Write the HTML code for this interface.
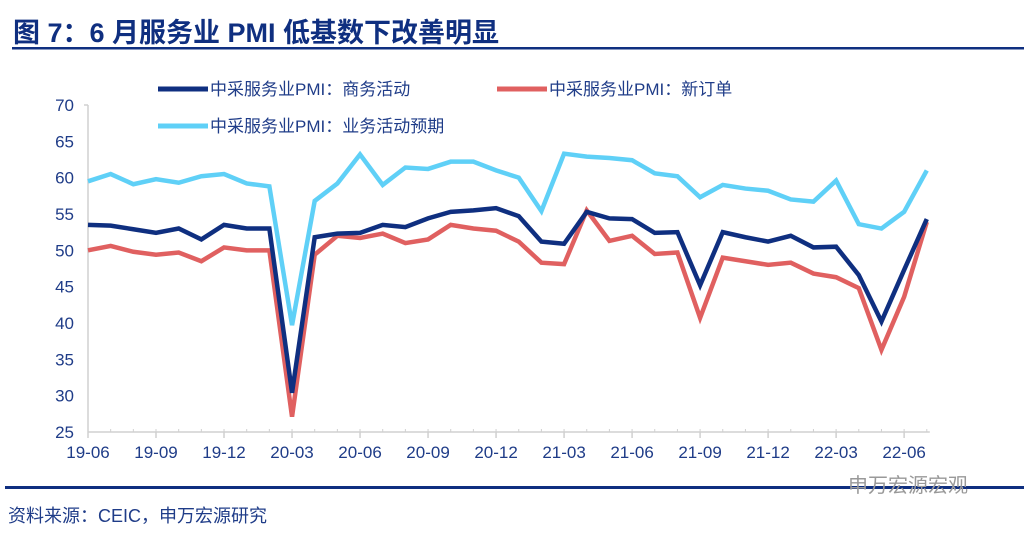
<!DOCTYPE html>
<html><head><meta charset="utf-8">
<style>
body{margin:0;background:#fff;width:1024px;height:539px;overflow:hidden;font-family:"Liberation Sans","Noto Sans CJK SC",sans-serif;}
svg{display:block}
</style></head>
<body>
<svg id="chart" width="1024" height="539" viewBox="0 0 1024 539" xmlns="http://www.w3.org/2000/svg">
<text x="13" y="42" font-size="27" font-weight="bold" fill="#0f2f80" font-family="Liberation Sans,Noto Sans CJK SC,sans-serif">图 7：6 月服务业 PMI 低基数下改善明显</text>
<rect x="12" y="47" width="1012" height="2.5" fill="#0f2f80"/>
<g font-size="17" fill="#1f3c88">
  <g><line x1="158" y1="89" x2="208" y2="89" stroke="#0f2f80" stroke-width="5"/><text x="210" y="95">中采服务业PMI：商务活动</text></g>
  <g><line x1="497" y1="89" x2="547" y2="89" stroke="#e06060" stroke-width="5"/><text x="549" y="95">中采服务业PMI：新订单</text></g>
  <g><line x1="158" y1="126" x2="208" y2="126" stroke="#5fd0f7" stroke-width="5"/><text x="210" y="132">中采服务业PMI：业务活动预期</text></g>
</g>
<g id="axes"></g>
<g id="series"></g>
<rect x="5" y="486" width="1019" height="3" fill="#0f2f80"/>
<text x="848" y="492" font-size="20" fill="#999">申万宏源宏观</text>
<text x="8" y="522" font-size="18" fill="#1f3c88">资料来源：CEIC，申万宏源研究</text>
</svg>
<script>
const months = ["19-06","19-07","19-08","19-09","19-10","19-11","19-12","20-01","20-02","20-03","20-04","20-05","20-06","20-07","20-08","20-09","20-10","20-11","20-12","21-01","21-02","21-03","21-04","21-05","21-06","21-07","21-08","21-09","21-10","21-11","21-12","22-01","22-02","22-03","22-04","22-05","22-06","22-07"];
const businessActivity = [53.5,53.4,52.9,52.4,53.0,51.5,53.5,53.0,53.0,30.4,51.8,52.3,52.4,53.5,53.2,54.4,55.3,55.5,55.8,54.7,51.2,50.9,55.3,54.4,54.3,52.4,52.5,45.2,52.5,51.8,51.2,52.0,50.4,50.5,46.6,40.2,47.3,54.3];
const newOrders = [50.0,50.6,49.8,49.4,49.7,48.5,50.4,50.0,50.0,27.1,49.4,52.0,51.7,52.3,51.0,51.5,53.5,53.0,52.7,51.2,48.3,48.1,55.5,51.3,52.0,49.5,49.7,40.7,49.0,48.5,48.0,48.3,46.8,46.3,44.8,36.3,43.6,53.9];
const expectations = [59.5,60.5,59.1,59.8,59.3,60.2,60.5,59.2,58.8,39.7,56.8,59.2,63.2,59.0,61.4,61.2,62.2,62.2,61.0,60.0,55.4,63.3,62.9,62.7,62.4,60.6,60.2,57.3,59.0,58.5,58.2,57.0,56.7,59.6,53.6,53.0,55.3,61.0];
const yTicks = [25,30,35,40,45,50,55,60,65,70];
const xTickLabels = ["19-06","19-09","19-12","20-03","20-06","20-09","20-12","21-03","21-06","21-09","21-12","22-03","22-06"];

const NS="http://www.w3.org/2000/svg";
const X0=88, DX=22.67, Y0=432, YMIN=25, YMAX=70, YH=327;
function xs(i){return X0+i*DX;}
function ys(v){return Y0-(v-YMIN)/(YMAX-YMIN)*YH;}
function mk(tag,attrs,parent){const e=document.createElementNS(NS,tag);for(const k in attrs)e.setAttribute(k,attrs[k]);parent.appendChild(e);return e;}
const axes=document.getElementById('axes');
const yAxis=mk('line',{x1:X0,y1:ys(YMAX),x2:X0,y2:Y0,stroke:'#d0d0d0','stroke-width':1.5},axes);


mk('line',{x1:X0-4,y1:ys(YMAX),x2:X0,y2:ys(YMAX),stroke:'#d0d0d0','stroke-width':1.5},axes);
yTicks.forEach(t=>{
  const tx=mk('text',{x:74,y:ys(t)+6,'font-size':17,fill:'#1f3c88','text-anchor':'end'},axes);
  tx.textContent=t;
  
  
});
const xAxis=mk('line',{x1:X0,y1:Y0,x2:xs(months.length-1)+3,y2:Y0,stroke:'#d0d0d0','stroke-width':1.5},axes);


months.forEach((m,i)=>{
  mk('line',{x1:xs(i),y1:Y0,x2:xs(i),y2:Y0-3,stroke:'#d0d0d0','stroke-width':1},axes);
  const idx=xTickLabels.indexOf(m);
  if(idx>=0){
    mk('line',{x1:xs(i),y1:Y0,x2:xs(i),y2:Y0+6,stroke:'#d0d0d0','stroke-width':1.5},axes);
    const tx=mk('text',{x:xs(i),y:Y0+26,'font-size':17,fill:'#1f3c88','text-anchor':'middle'},axes);
    tx.textContent=m;
    
    
  }
});
const series=document.getElementById('series');
[[expectations,'#5fd0f7','line-expectations'],[newOrders,'#e06060','line-new-orders'],[businessActivity,'#0f2f80','line-business-activity']].forEach(([d,c,n])=>{
  const p=mk('polyline',{points:d.map((v,i)=>xs(i)+','+ys(v)).join(' '),fill:'none',stroke:c,'stroke-width':4.5,'stroke-linejoin':'miter'},series);
  
  
});
</script>
</body></html>
